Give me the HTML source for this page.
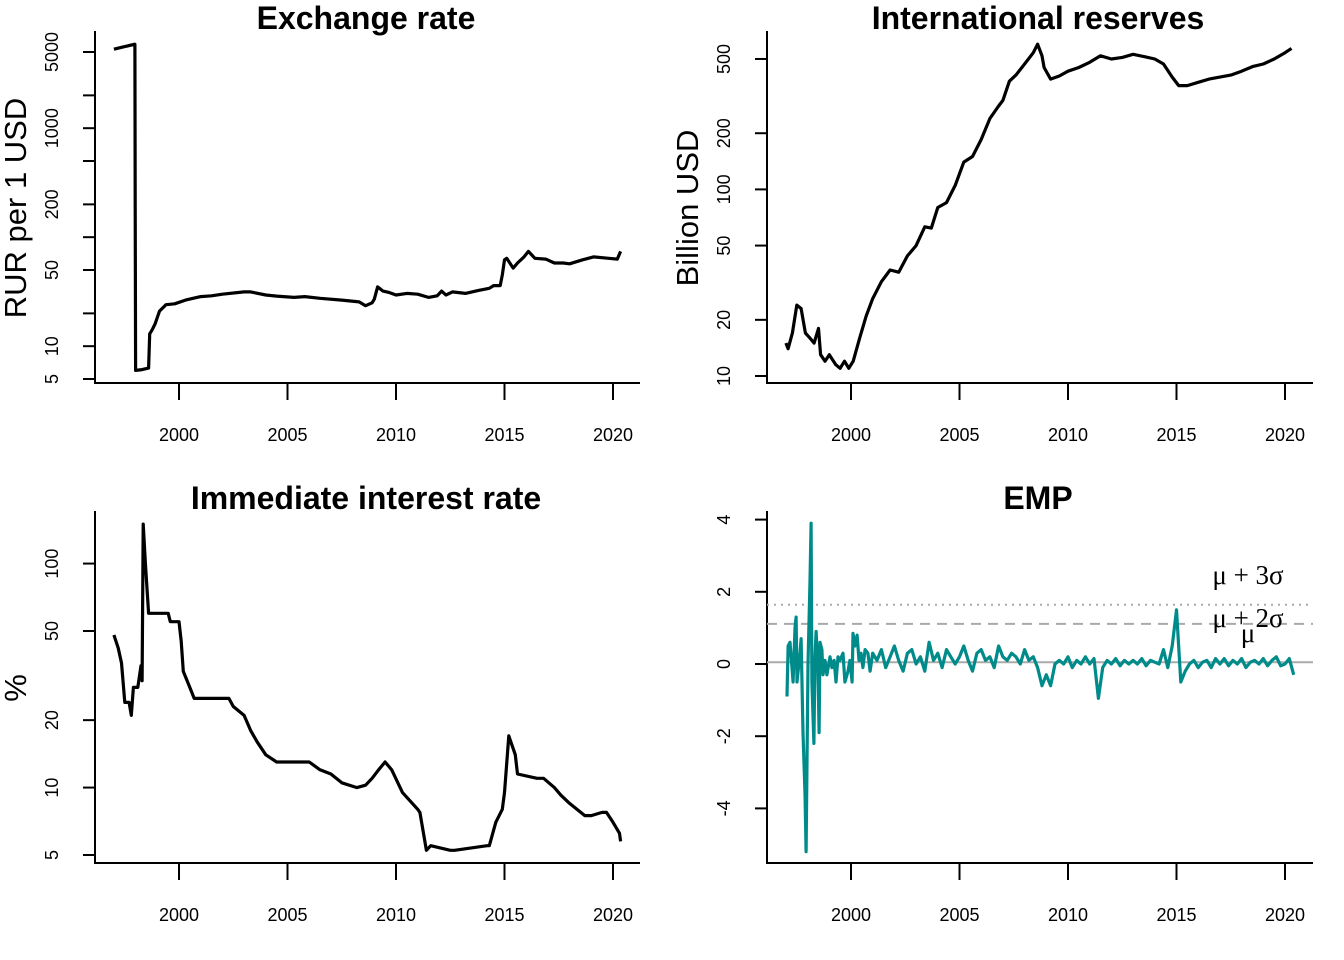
<!DOCTYPE html>
<html><head><meta charset="utf-8"><style>
html,body{margin:0;padding:0;background:#fff;}
svg{display:block;font-family:"Liberation Sans",Arial,sans-serif;}
</style></head><body>
<svg id="fig" width="1344" height="960" viewBox="0 0 1344 960" xmlns="http://www.w3.org/2000/svg"></svg>
<script>
// ---------- data ----------
const xTickYears = [2000, 2005, 2010, 2015, 2020];

const fxYears = [1997.0,1997.5,1997.97,1997.98,1998.0,1998.3,1998.6,1998.65,1998.75,1998.9,1999.1,1999.4,1999.8,2000.3,2001.0,2001.5,2002.0,2003.0,2003.3,2004.0,2004.5,2005.3,2005.8,2006.5,2007.5,2008.3,2008.6,2008.9,2009.0,2009.15,2009.4,2009.7,2010.0,2010.5,2011.0,2011.5,2011.9,2012.1,2012.3,2012.6,2013.2,2013.8,2014.3,2014.5,2014.8,2014.9,2015.0,2015.1,2015.4,2015.6,2015.9,2016.1,2016.4,2016.9,2017.3,2017.7,2018.0,2018.6,2019.1,2019.8,2020.2,2020.35];
const fxValues = [5300,5600,5900,200,6.0,6.1,6.3,13,14,16,21,24,24.5,26.5,28.5,29,30,31.5,31.5,29.5,28.8,28,28.5,27.5,26.5,25.5,23.5,25,27,35,32,31,29.5,30.5,30,28,29,32,29.5,31.5,30.5,32.5,34,36,36,45,62,64,52,58,66,74,64,63,58,58,57,62,66,64,63,74];
const fxTicks = [5,10,20,50,100,200,500,1000,2000,5000];
const fxTickLabels = ["5","10","","50","","200","","1000","","5000"];

const resYears = [1997.0,1997.1,1997.3,1997.5,1997.7,1997.9,1998.1,1998.3,1998.5,1998.6,1998.8,1999.0,1999.3,1999.5,1999.7,1999.9,2000.1,2000.4,2000.7,2001.0,2001.4,2001.8,2002.2,2002.6,2003.0,2003.4,2003.7,2004.0,2004.4,2004.8,2005.2,2005.6,2006.0,2006.4,2006.8,2007.0,2007.3,2007.6,2008.0,2008.4,2008.6,2008.8,2008.9,2009.2,2009.6,2010.0,2010.5,2011.0,2011.5,2012.0,2012.5,2013.0,2013.5,2014.0,2014.4,2014.8,2015.1,2015.5,2016.0,2016.5,2017.0,2017.5,2018.0,2018.5,2019.0,2019.5,2020.0,2020.3];
const resValues = [15,14,17,24,23,17,16,15,18,13,12,13,11.5,11,12,11,12,16,21,26,32,37,36,44,50,63,62,80,85,105,140,150,185,240,280,300,380,410,470,540,600,520,450,390,405,430,450,480,520,500,510,530,515,500,470,400,360,360,375,390,400,410,430,455,470,500,540,570];
const resTicks = [10,20,50,100,200,500];
const resTickLabels = ["10","20","50","100","200","500"];

const irYears = [1997.0,1997.2,1997.35,1997.5,1997.7,1997.8,1997.9,1998.1,1998.25,1998.3,1998.35,1998.45,1998.6,1999.5,1999.6,2000.0,2000.1,2000.2,2000.5,2000.7,2002.3,2002.5,2003.0,2003.3,2003.6,2004.0,2004.5,2006.0,2006.5,2007.0,2007.5,2008.2,2008.6,2008.9,2009.2,2009.5,2009.8,2010.3,2011.0,2011.1,2011.4,2011.6,2012.5,2012.7,2014.2,2014.3,2014.6,2014.9,2015.0,2015.2,2015.5,2015.6,2016.5,2016.8,2017.3,2017.6,2018.0,2018.7,2019.0,2019.5,2019.7,2020.0,2020.3,2020.35];
const irValues = [48,42,36,24,24,21,28,28,35,30,150,100,60,60,55,55,45,33,28,25,25,23,21,18,16,14,13,13,12,11.5,10.5,10,10.25,11,12,13,12,9.5,8,7.75,5.25,5.5,5.25,5.25,5.5,5.5,7,8,9.5,17,14,11.5,11,11,10,9.25,8.5,7.5,7.5,7.75,7.75,7,6.25,5.75,5.5];
const irTicks = [5,10,20,50,100];
const irTickLabels = ["5","10","20","50","100"];

const empEarlyYears = [1997.05,1997.10,1997.19,1997.33,1997.42,1997.47,1997.51,1997.65,1997.70,1997.79,1997.88,1997.93,1997.97,1998.02,1998.11,1998.16,1998.20,1998.29,1998.34,1998.39,1998.48,1998.53,1998.57,1998.66,1998.71,1998.80,1998.89,1999.03,1999.12,1999.22,1999.31,1999.40,1999.49,1999.63,1999.72,1999.86,1999.95,2000.05,2000.09,2000.18,2000.28,2000.37,2000.46,2000.55,2000.65,2000.78,2000.88];
const empEarlyValues = [-0.9,0.5,0.6,-0.5,1.0,1.3,-0.5,0.3,0.7,-1.9,-3.6,-5.2,-3.0,0.0,2.3,3.9,-0.5,-2.2,0.2,0.9,-0.2,-1.9,0.6,0.4,-0.3,0.1,-0.3,0.2,-0.1,0.1,-0.5,0.2,0.1,0.3,-0.5,-0.2,0.1,-0.5,0.85,0.5,0.8,0.1,0.3,-0.1,0.4,0.3,-0.2];
const empStart = 2001.0, empStep = 0.2;
const empLateValues = [0.3,0.1,0.4,-0.1,0.2,0.5,0.1,-0.2,0.3,0.4,0.0,0.2,-0.2,0.6,0.1,0.3,-0.1,0.4,0.2,0.0,
 0.2,0.5,0.1,-0.2,0.3,0.4,0.1,0.2,-0.1,0.5,0.2,0.1,0.3,0.2,0.0,0.4,0.1,0.2,-0.1,-0.6,
 -0.3,-0.6,0.0,0.1,0.0,0.2,-0.1,0.1,0.0,0.2,0.0,0.15,-0.95,-0.1,0.1,0.0,0.15,-0.05,0.1,0.0,
 0.1,0.0,0.15,-0.05,0.1,0.05,0.0,0.4,-0.1,0.5,1.5,-0.5,-0.2,0.0,0.1,-0.1,0.05,0.1,-0.1,0.15,
 0.0,0.15,-0.05,0.1,0.0,0.15,-0.1,0.05,0.1,0.0,0.15,-0.05,0.1,0.2,-0.05,0.0,0.15,-0.3];
const empTicks = [-4,-2,0,2,4];
const empTickLabels = ["-4","-2","0","2","4"];
const empMu = 0.05, empSigma = 0.53;

// ---------- helpers ----------
const NS = "http://www.w3.org/2000/svg";
const svg = document.getElementById("fig");
function el(tag, attrs, parent, text){
  const e = document.createElementNS(NS, tag);
  for (const k in attrs) e.setAttribute(k, attrs[k]);
  if (text !== undefined) e.textContent = text;
  (parent || svg).appendChild(e);
  return e;
}
function makeX(x2000){ return y => x2000 + (y - 2000) * 21.7; }
function makeLogY(v0, y0, pxPerDec){ return v => y0 - Math.log10(v / v0) * pxPerDec; }
function makeLinY(y0, pxPerUnit){ return v => y0 - v * pxPerUnit; }

function panel(p){
  const g = el("g", {});
  
  
  const t = el("text", {x:p.titleX, y:p.titleY, "text-anchor":"middle", "font-size":"32", "font-weight":"bold"}, g, p.title);
  
  
  const ax = el("path", {d:`M${p.left},${p.top} V${p.bottom} H${p.right}`, stroke:"#000", "stroke-width":"2", fill:"none"}, g);
  
  
  xTickYears.forEach(yr => {
    const x = p.sx(yr);
    const tk = el("line", {x1:x, x2:x, y1:p.bottom, y2:p.bottom + 17, stroke:"#000", "stroke-width":"2"}, g);
    
    
    const lb = el("text", {x:x, y:p.bottom + 58, "text-anchor":"middle", "font-size":"18"}, g, String(yr));
    
    
  });
  p.yTicks.forEach((v, i) => {
    const y = p.sy(v);
    const tk = el("line", {x1:p.left - 12, x2:p.left, y1:y, y2:y, stroke:"#000", "stroke-width":"2"}, g);
    
    
    if (p.yLabels[i]) {
      const lx = p.left - 37;
      const lb = el("text", {x:lx, y:y, "text-anchor":"middle", "font-size":"18", transform:`rotate(-90 ${lx} ${y})`}, g, p.yLabels[i]);
      
      
    }
  });
  if (p.yTitle) {
    const lb = el("text", {x:p.yTitleX, y:p.yTitleY, "text-anchor":"middle", "font-size":"31", transform:`rotate(-90 ${p.yTitleX} ${p.yTitleY})`}, g, p.yTitle);
    
    
  }
  return g;
}
function series(g, xs, vs, sx, sy, color, name){
  const d = xs.map((t, i) => (i ? "L" : "M") + sx(t).toFixed(1) + "," + sy(vs[i]).toFixed(1)).join(" ");
  const pth = el("path", {d:d, fill:"none", stroke:color, "stroke-width":"3.2", "stroke-linejoin":"round"}, g);
  
  
}

// ---------- panel 1: exchange rate ----------
{
  const sx = makeX(179), sy = makeLogY(5, 379, 109);
  const g = panel({name:"exchange-rate-panel", title:"Exchange rate", titleX:366, titleY:29, left:95, right:640, top:31, bottom:383, sx, sy, yTicks:fxTicks, yLabels:fxTickLabels, yTitle:"RUR per 1 USD", yTitleX:26, yTitleY:208});
  series(g, fxYears, fxValues, sx, sy, "#000", "exchange-rate-line");
}
// ---------- panel 2: reserves ----------
{
  const sx = makeX(851), sy = makeLogY(10, 376, 186.6);
  const g = panel({name:"reserves-panel", title:"International reserves", titleX:1038, titleY:29, left:767, right:1313, top:31, bottom:383, sx, sy, yTicks:resTicks, yLabels:resTickLabels, yTitle:"Billion USD", yTitleX:698, yTitleY:208});
  series(g, resYears, resValues, sx, sy, "#000", "reserves-line");
}
// ---------- panel 3: interest rate ----------
{
  const sx = makeX(179), sy = makeLogY(5, 855, 224);
  const g = panel({name:"interest-rate-panel", title:"Immediate interest rate", titleX:366, titleY:509, left:95, right:640, top:511, bottom:863, sx, sy, yTicks:irTicks, yLabels:irTickLabels, yTitle:"%", yTitleX:26, yTitleY:688});
  series(g, irYears, irValues, sx, sy, "#000", "interest-rate-line");
}
// ---------- panel 4: EMP ----------
{
  const sx = makeX(851), sy = makeLinY(664, 36.1);
  const g = panel({name:"emp-panel", title:"EMP", titleX:1038, titleY:509, left:767, right:1313, top:511, bottom:863, sx, sy, yTicks:empTicks, yLabels:empTickLabels});
  const refs = [
    {v:empMu, dash:"", name:"mean-line"},
    {v:empMu + 2*empSigma, dash:"10,7", name:"two-sigma-line"},
    {v:empMu + 3*empSigma, dash:"2,5", name:"three-sigma-line"}
  ];
  refs.forEach(r => {
    const ln = el("line", {x1:767, x2:1313, y1:sy(r.v), y2:sy(r.v), stroke:"#aaaaaa", "stroke-width":"2", "stroke-dasharray":r.dash}, g);
    
    
  });
  const empYears = empEarlyYears.concat(empLateValues.map((_, i) => empStart + i * empStep));
  const empValues = empEarlyValues.concat(empLateValues);
  series(g, empYears, empValues, sx, sy, "#008b8b", "emp-line");
  const labs = [["μ + 3σ", 1248, 584, "label-three-sigma"], ["μ + 2σ", 1248, 627, "label-two-sigma"], ["μ", 1248, 642, "label-mean"]];
  labs.forEach(l => {
    const t = el("text", {x:l[1], y:l[2], "text-anchor":"middle", "font-size":"27", "font-family":"Liberation Serif, serif"}, g, l[0]);
    
    
  });
}
</script>
</body></html>
